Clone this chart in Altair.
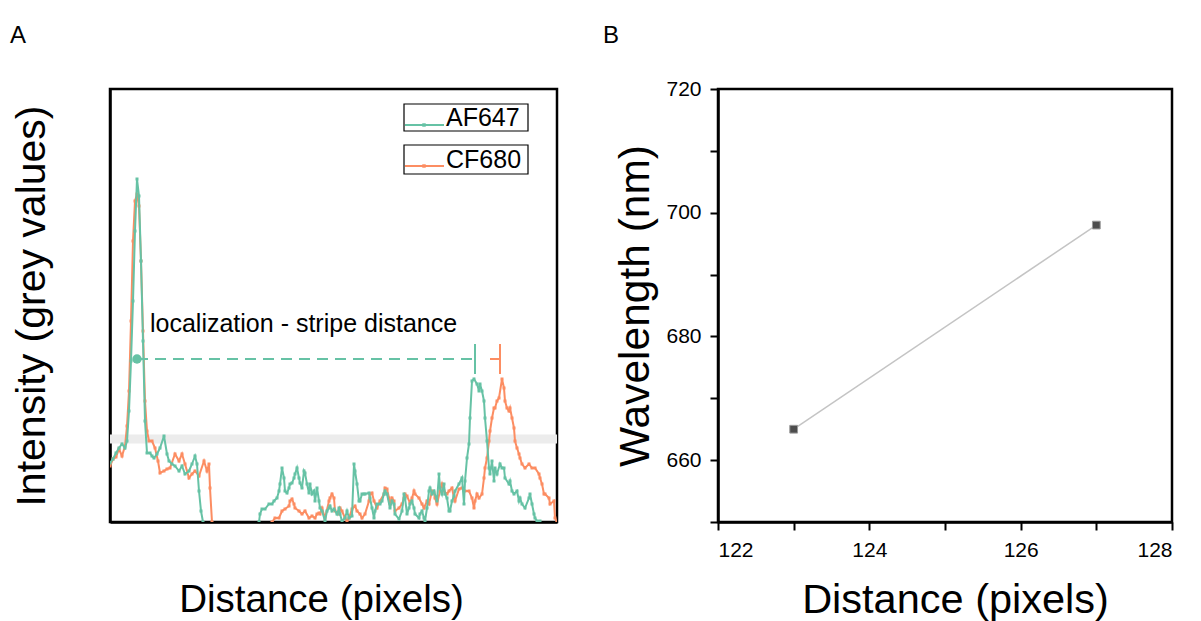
import altair as alt
import pandas as pd

GREEN = "#66c2a5"
ORANGE = "#fc8d62"
FONT = "Liberation Sans"

# Panel A: line profiles, (distance, intensity) pairs, arbitrary units
af647_peak = [(0,59),(3,63),(6,69),(9,74),(12,78),(15,74),(17,81),(19,111),(21,161),(23,221),(25,291),(27,343),(29,326),(31,261),(33,181),(35,101),(37,69),(40,69),(42,66),(44,64),(47,68),(50,74),(54,86),(57,68),(59,61),(62,58),(65,56),(69,51),(72,56),(75,48),(79,51),(82,58),(85,66),(87,58),(89,31),(91,11),(93,0)]
af647_tail = [(149,0),(150,8),(152,13),(155,13),(159,18),(162,18),(164,21),(167,24),(169,31),(170,38),(172,54),(174,44),(175,31),(177,29),(179,34),(180,38),(182,39),(184,44),(185,48),(187,54),(189,44),(190,39),(192,34),(194,51),(195,49),(197,38),(199,29),(200,38),(202,28),(204,31),(205,21),(207,34),(209,21),(210,14),(212,11),(215,1),(217,11),(219,14),(220,16),(222,11),(224,13),(227,8),(229,14),(230,8),(232,1),(235,4),(237,11),(239,4),(242,6),(244,58),(245,51),(247,38),(249,21),(250,21),(252,28),(254,28),(255,28),(259,29),(260,24),(262,14),(264,4),(265,11),(267,18),(270,18),(272,21),(274,28),(275,31),(277,28),(280,14),(282,21),(284,18),(285,8),(289,3),(292,11),(294,28),(295,24),(297,8),(299,14),(300,18),(302,21),(304,14),(305,8),(309,4),(310,8),(312,11),(314,4),(315,1),(317,14),(319,31),(320,34),(322,28),(324,31),(327,21),(329,48),(330,34),(332,28),(334,38),(335,28),(337,24),(339,11),(340,11),(342,21),(344,26),(345,31),(349,38),(352,44),(354,18),(355,41),(357,64),(359,78),(360,104),(362,141),(364,143),(367,138),(369,131),(370,138),(372,131),(374,121),(375,104),(377,81),(379,54),(380,48),(382,61),(384,41),(385,54),(387,48),(390,58),(392,54),(394,54),(395,44),(399,38),(400,41),(402,31),(404,28),(407,31),(409,21),(410,24),(412,18),(415,14),(419,24),(420,28),(422,18),(424,8),(425,4),(427,1),(430,1)]
cf680_peak = [(0,56),(3,63),(6,65),(9,73),(12,66),(15,76),(17,96),(19,131),(21,201),(23,281),(25,321),(27,328),(29,316),(31,261),(33,191),(35,121),(37,91),(39,81),(42,81),(45,74),(48,61),(50,49),(54,51),(57,53),(60,54),(65,68),(69,61),(72,68),(75,58),(79,44),(82,48),(85,51),(89,46),(94,61),(97,51),(99,58),(100,34),(102,0)]
cf680_tail = [(162,0),(165,4),(169,4),(172,11),(175,13),(179,16),(180,21),(182,23),(184,18),(185,14),(189,11),(192,8),(195,11),(199,4),(202,6),(205,4),(207,8),(209,9),(210,8),(212,14),(215,4),(219,21),(220,24),(222,28),(224,24),(225,11),(229,8),(230,14),(232,11),(235,4),(237,1),(239,4),(242,13),(245,16),(247,11),(250,8),(252,4),(255,8),(259,21),(260,28),(262,29),(264,21),(267,14),(270,21),(274,28),(275,34),(277,33),(279,24),(280,18),(282,24),(284,21),(285,11),(289,14),(292,18),(294,24),(295,28),(297,26),(300,19),(302,24),(304,31),(305,28),(309,24),(312,18),(314,14),(317,21),(319,18),(322,31),(324,29),(325,24),(327,18),(330,31),(332,38),(334,31),(337,28),(339,31),(342,34),(344,24),(345,21),(349,33),(352,34),(355,31),(359,31),(362,24),(364,14),(365,21),(367,28),(369,24),(372,28),(374,44),(375,54),(377,64),(379,81),(380,91),(382,104),(384,114),(385,114),(387,121),(389,124),(392,143),(394,134),(395,121),(397,114),(399,111),(400,114),(402,104),(404,94),(405,81),(407,74),(409,68),(410,64),(412,58),(415,54),(419,58),(422,54),(425,54),(429,48),(430,44),(432,38),(434,28),(435,28),(439,24),(440,18),(444,21),(445,4),(447,0)]

a_x_domain = [0, 447]
a_y_domain = [0, 433]
background_level = 83
loc_start = 27
loc_level = 163
af647_stripe = 365
cf680_stripe = 390
cf680_dash_start = 380
stripe_half = 15
annotation_text = "localization - stripe distance"
annotation_pos = (40, 198)

# Panel B: calibration
b_distance = [123, 127]
b_wavelength = [665, 698]


def profile(name, segs):
    rows = []
    for k, seg in enumerate(segs):
        for d, v in seg:
            rows.append({"series": name, "seg": f"{name}-{k}", "distance": d, "intensity": v})
    return pd.DataFrame(rows)


df_af = profile("AF647", [af647_peak, af647_tail])
df_cf = profile("CF680", [cf680_peak, cf680_tail])

xA = alt.X("distance:Q", scale=alt.Scale(domain=a_x_domain, nice=False, zero=False),
           axis=alt.Axis(title="Distance (pixels)", ticks=False, labels=False, grid=False,
                         titlePadding=59, titleFontSize=38.5, titleX=211, titleAlign="center"))
yA = alt.Y("intensity:Q", scale=alt.Scale(domain=a_y_domain, nice=False),
           axis=alt.Axis(title="Intensity (grey values)", ticks=False, labels=False, grid=False,
                         titlePadding=57, titleFontSize=41))

band = alt.Chart(pd.DataFrame({"distance": [a_x_domain[0]], "distance_end": [a_x_domain[1]],
                               "intensity": [background_level]})).mark_rule(
    strokeWidth=9, color="#ececec").encode(x=xA, x2="distance_end:Q", y=yA)

line_cf = alt.Chart(df_cf).mark_line(color=ORANGE, strokeWidth=2, point=alt.OverlayMarkDef(
    shape="square", size=9, filled=True, color=ORANGE), clip=True).encode(
    x=xA, y=yA, detail="seg:N", order="distance:Q")
line_af = alt.Chart(df_af).mark_line(color=GREEN, strokeWidth=2, point=alt.OverlayMarkDef(
    shape="square", size=9, filled=True, color=GREEN), clip=True).encode(
    x=xA, y=yA, detail="seg:N", order="distance:Q")

dash_df = pd.DataFrame({
    "distance": [loc_start, cf680_dash_start],
    "distance_end": [af647_stripe, cf680_stripe],
    "intensity": [loc_level, loc_level],
    "series": ["AF647", "CF680"],
})
color_scale = alt.Scale(domain=["AF647", "CF680"], range=[GREEN, ORANGE])
dashes = alt.Chart(dash_df).mark_rule(strokeWidth=2, strokeDash=[11, 7]).encode(
    x=xA, x2="distance_end:Q", y=yA,
    color=alt.Color("series:N", scale=color_scale, legend=None))

tick_df = pd.DataFrame({
    "distance": [af647_stripe, cf680_stripe],
    "intensity": [loc_level - stripe_half] * 2,
    "intensity_end": [loc_level + stripe_half] * 2,
    "series": ["AF647", "CF680"],
})
ticks = alt.Chart(tick_df).mark_rule(strokeWidth=2).encode(
    x=xA, y=yA, y2="intensity_end:Q",
    color=alt.Color("series:N", scale=color_scale, legend=None))

dot = alt.Chart(pd.DataFrame({"distance": [loc_start], "intensity": [loc_level]})).mark_circle(
    size=90, color=GREEN, opacity=1).encode(x=xA, y=yA)

label = alt.Chart(pd.DataFrame({"distance": [annotation_pos[0]], "intensity": [annotation_pos[1]],
                                "t": [annotation_text]})).mark_text(
    align="left", baseline="middle", fontSize=25, font=FONT, color="black").encode(
    x=xA, y=yA, text="t:N")

# custom boxed legend and panel letters (positions relative to the plot area)
one = pd.DataFrame({"k": [0]})
leg_layers = []
for name, col, top, bottom, ly, ty in [("AF647", GREEN, 15, 42, 36, 29),
                                       ("CF680", ORANGE, 56, 85, 77, 71)]:
    leg_layers.append(alt.Chart(one).mark_rect(fill="white", stroke="black", strokeWidth=1.2).encode(
        x=alt.value(294), x2=alt.value(418), y=alt.value(top), y2=alt.value(bottom)))
    leg_layers.append(alt.Chart(one).mark_rule(color=col, strokeWidth=2).encode(
        x=alt.value(295), x2=alt.value(334), y=alt.value(ly)))
    leg_layers.append(alt.Chart(one).mark_square(color=col, size=12, opacity=1).encode(
        x=alt.value(314), y=alt.value(ly)))
    leg_layers.append(alt.Chart(one).mark_text(align="left", baseline="middle", fontSize=25,
                                               font=FONT, color="black", text=name).encode(
        x=alt.value(336), y=alt.value(ty)))


def panel_letter(letter, dx):
    return alt.Chart(one).mark_text(align="left", baseline="alphabetic", fontSize=24, font=FONT,
                                    color="black", text=letter).encode(
        x=alt.value(dx), y=alt.value(-46))


panelA = alt.layer(band, line_cf, line_af, dashes, ticks, dot, label, *leg_layers,
                   panel_letter("A", -100)).properties(width=447, height=433)

dfB = pd.DataFrame({"distance": b_distance, "wavelength": b_wavelength})
xB = alt.X("distance:Q", scale=alt.Scale(domain=[122, 128], nice=False, zero=False),
           axis=alt.Axis(title="Distance (pixels)", values=[122, 123, 124, 125, 126, 127, 128],
                         labelExpr="datum.value % 2 == 0 ? datum.label : ''", grid=False,
                         tickSize=8, labelPadding=9, labelFontSize=21, titlePadding=19,
                         titleFontSize=41.5, titleX=237, titleAlign="center"))
yB = alt.Y("wavelength:Q", scale=alt.Scale(domain=[650, 720], nice=False, zero=False),
           axis=alt.Axis(title="Wavelength (nm)", values=[650, 660, 670, 680, 690, 700, 710, 720],
                         labelExpr="(datum.value >= 660 && (datum.value - 660) % 20 == 0) ? datum.label : ''",
                         grid=False, tickSize=8, labelPadding=9, labelFontSize=21, titlePadding=8,
                         titleFontSize=42.5))
lineB = alt.Chart(dfB).mark_line(color="#c4c4c4", strokeWidth=1.5).encode(x=xB, y=yB)
ptsB = alt.Chart(dfB).mark_square(size=60, fill="#4d4d4d", stroke="#9a9a9a", strokeWidth=1,
                                  opacity=1).encode(x=xB, y=yB)
panelB = alt.layer(lineB, ptsB, panel_letter("B", -115)).properties(width=454, height=433)

chart = alt.hconcat(panelA, panelB, spacing=38).properties(
    padding={"top": 14, "left": 0, "right": 0, "bottom": 0}
).configure(font=FONT).configure_view(
    stroke="black", strokeWidth=2.5
).configure_axis(
    domainColor="black", domainWidth=2.5, tickColor="black", tickWidth=2,
    labelColor="black", labelFont=FONT, titleFont=FONT,
    titleFontWeight="normal", titleColor="black"
)

chart.save("out.html", embed_options={"renderer": "svg", "actions": False})
